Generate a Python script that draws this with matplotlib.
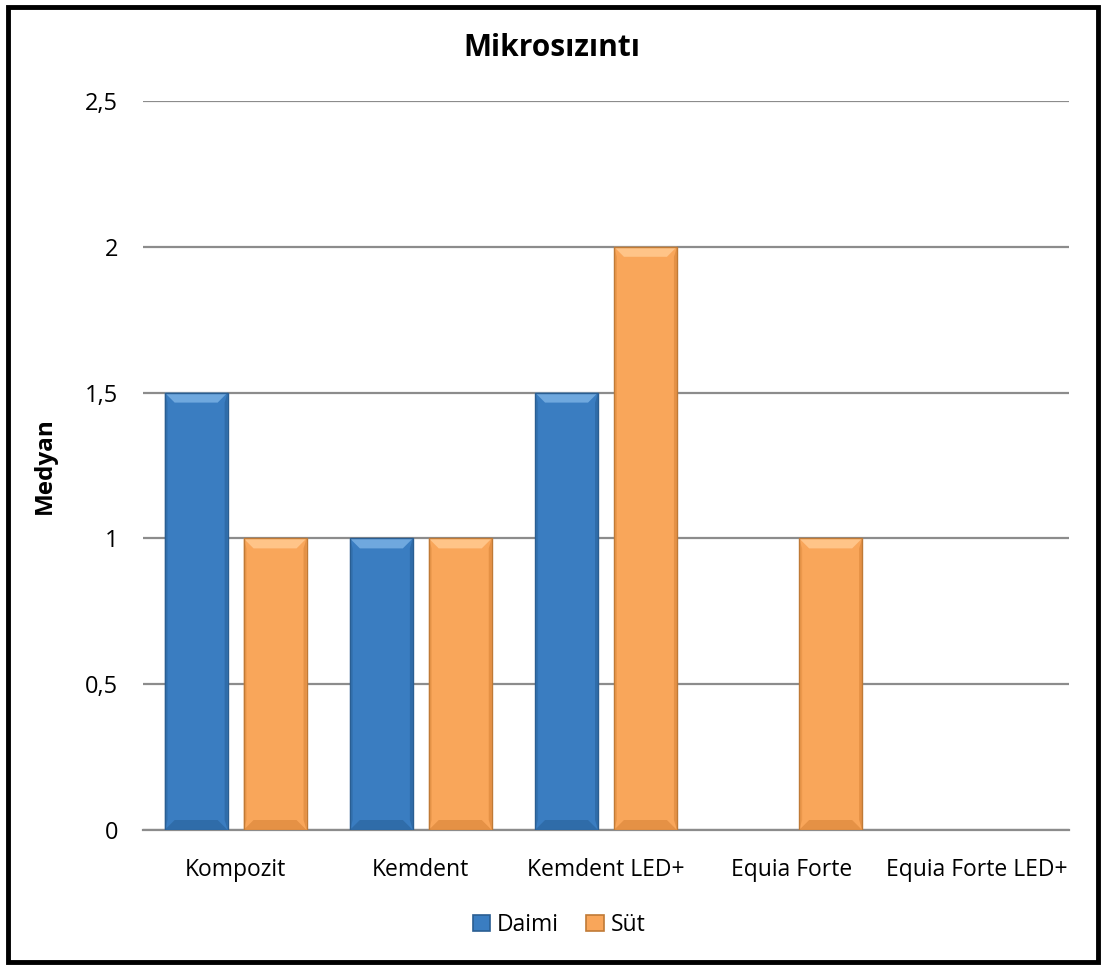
import matplotlib
matplotlib.use("Agg")
import matplotlib.pyplot as plt
from matplotlib.patches import Polygon, Rectangle
import numpy as np

categories = ["Kompozit", "Kemdent", "Kemdent LED+", "Equia Forte", "Equia Forte LED+"]
daimi = [1.5, 1.0, 1.5, 0.0, 0.0]
sut = [1.0, 1.0, 2.0, 1.0, 0.0]
series_names = ["Daimi", "Süt"]
yticks = [0, 0.5, 1, 1.5, 2, 2.5]
ytick_labels = ["0", "0,5", "1", "1,5", "2", "2,5"]

plt.rcParams['font.family'] = ['Open Sans', 'DejaVu Sans']

W, H = 1103, 965
fig = plt.figure(figsize=(W / 100, H / 100), dpi=100)
ax = fig.add_axes([143 / W, 1 - 830 / H, (1069 - 143) / W, (830 - 101) / H])

x = np.arange(len(categories))
bw = 0.34
gap = 0.086
colors = ["#3A7DC1", "#F9A65A"]
edges = ["#2A5E92", "#C07A36"]
light = ["#6FA8DE", "#FFC488"]
dark = ["#2D68A3", "#E08C40"]

ax.set_xlim(-0.5, len(categories) - 0.5)
ax.set_ylim(0, 2.5)

ppx = (len(categories)) / (1069 - 143)
ppy = 2.5 / (830 - 101)
bev = 10

for i, vals in enumerate([daimi, sut]):
    offs = (-(bw + gap) / 2) if i == 0 else ((bw + gap) / 2)
    bars = ax.bar(x + offs, vals, width=bw, color=colors[i], linewidth=0,
                  zorder=3, label=series_names[i])
    for b in bars:
        h = b.get_height()
        if h <= 0:
            continue
        x0 = b.get_x(); x1 = x0 + b.get_width()
        bx = bev * ppx; by = bev * ppy
        ax.add_patch(Polygon([[x0, h], [x1, h], [x1 - bx, h - by], [x0 + bx, h - by]],
                             closed=True, facecolor=light[i], edgecolor='none', zorder=4))
        ax.add_patch(Polygon([[x0, 0], [x1, 0], [x1 - bx, by], [x0 + bx, by]],
                             closed=True, facecolor=dark[i], edgecolor='none', zorder=4, alpha=0.8))
        sx = 3 * ppx
        ax.add_patch(Polygon([[x1, 0], [x1, h], [x1 - sx, h - by], [x1 - sx, by]],
                             closed=True, facecolor=dark[i], edgecolor='none', zorder=4, alpha=0.8))
        ax.add_patch(Polygon([[x0, 0], [x0, h], [x0 + sx, h - by], [x0 + sx, by]],
                             closed=True, facecolor=dark[i], edgecolor='none', zorder=4, alpha=0.5))
        ax.add_patch(Rectangle((x0, 0), x1 - x0, h, facecolor='none', edgecolor=edges[i],
                               linewidth=1.0, zorder=5))

ax.set_yticks(yticks)
ax.set_yticklabels(ytick_labels, fontsize=17)
ax.set_xticks(x)
ax.set_xticklabels(categories, fontsize=16.5)
ax.tick_params(axis='both', length=0)
ax.tick_params(axis='y', pad=18)
ax.tick_params(axis='x', pad=20)
ax.yaxis.grid(True, color="#8C8C8C", linewidth=1.6, zorder=0)
ax.set_axisbelow(True)
for s in ["top", "right", "left"]:
    ax.spines[s].set_visible(False)
ax.spines["bottom"].set_color("#8C8C8C")
ax.spines["bottom"].set_linewidth(1.6)

ax.set_ylabel("Medyan", fontsize=17.5, fontweight='bold', labelpad=20)
fig.text(0.5, 1 - 48 / H, "Mikrosızıntı", ha='center', va='center', fontsize=21.5, fontweight='bold')

leg = ax.legend(loc='center', bbox_to_anchor=((559 - 143) / 926, (830 - 925) / (830 - 101)), ncol=2,
                frameon=False, fontsize=16.5, handlelength=0.75, handleheight=0.75,
                columnspacing=1.2, handletextpad=0.3)
for hdl, ec in zip(leg.legend_handles, edges):
    hdl.set_edgecolor(ec)
    hdl.set_linewidth(1.2)

fig.add_artist(Rectangle((8 / W, 3 / H), (1098 - 8) / W, (958 - 3) / H, transform=fig.transFigure,
                         facecolor='none', edgecolor='black', linewidth=3.5))

fig.savefig("out.png", dpi=100)
